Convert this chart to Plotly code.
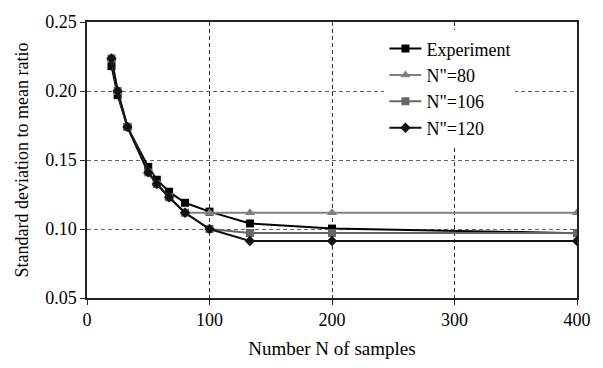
import plotly.graph_objects as go

n_samples = [20, 25, 33, 50, 57, 67, 80, 100, 133, 200, 400]
experiment = [0.218, 0.197, 0.174, 0.145, 0.1357, 0.127, 0.119, 0.1126, 0.104, 0.1003, 0.097]
n80 = [0.2236, 0.200, 0.174, 0.141, 0.1326, 0.123, 0.1118, 0.1118, 0.1118, 0.1118, 0.1118]
n106 = [0.2236, 0.200, 0.174, 0.141, 0.1326, 0.123, 0.1118, 0.100, 0.0971, 0.0971, 0.0971]
n120 = [0.2236, 0.200, 0.174, 0.141, 0.1326, 0.123, 0.1118, 0.100, 0.0913, 0.0913, 0.0913]

x_ticks = [0, 100, 200, 300, 400]
y_ticks = [0.05, 0.10, 0.15, 0.20, 0.25]

FONT = "Liberation Serif, Times New Roman, serif"

fig = go.Figure()
fig.add_trace(go.Scatter(x=n_samples, y=experiment, name="Experiment", mode="lines+markers",
                         line=dict(color="#000000", width=2),
                         marker=dict(symbol="square", size=8, color="#000000")))
fig.add_trace(go.Scatter(x=n_samples, y=n80, name="N\"=80", mode="lines+markers",
                         line=dict(color="#808080", width=2),
                         marker=dict(symbol="triangle-up", size=9, color="#808080")))
fig.add_trace(go.Scatter(x=n_samples, y=n106, name="N\"=106", mode="lines+markers",
                         line=dict(color="#666666", width=2),
                         marker=dict(symbol="square", size=8, color="#666666")))
fig.add_trace(go.Scatter(x=n_samples, y=n120, name="N\"=120", mode="lines+markers",
                         line=dict(color="#111111", width=2),
                         marker=dict(symbol="diamond", size=8, color="#111111")))

fig.update_layout(
    width=603, height=368,
    margin=dict(l=87, r=24, t=15, b=70),
    paper_bgcolor="white", plot_bgcolor="white",
    font=dict(family=FONT, size=18, color="#000000"),
    legend=dict(x=0.607, y=0.97, xanchor="left", yanchor="top",
                bgcolor="white", borderwidth=0, font=dict(family=FONT, size=18),
                itemwidth=32),
    xaxis=dict(range=[0, 400], tickvals=x_ticks, ticktext=[str(v) for v in x_ticks],
               title=dict(text="Number N of samples", font=dict(family=FONT, size=19), standoff=12),
               showline=True, linecolor="#222222", linewidth=1.5, mirror=True,
               ticks="outside", ticklen=5, tickcolor="#222222",
               showgrid=True, gridcolor="#333333", griddash="4px,3px", gridwidth=1,
               zeroline=False),
    yaxis=dict(range=[0.05, 0.25], tickvals=y_ticks, ticktext=["%.2f" % v for v in y_ticks],
               title=dict(text="Standard deviation to mean ratio", font=dict(family=FONT, size=18), standoff=12),
               showline=True, linecolor="#222222", linewidth=1.5, mirror=True,
               ticks="outside", ticklen=5, tickcolor="#222222",
               showgrid=True, gridcolor="#666666", griddash="4px,3px", gridwidth=1,
               zeroline=False),
)

fig.write_html("out.html")
